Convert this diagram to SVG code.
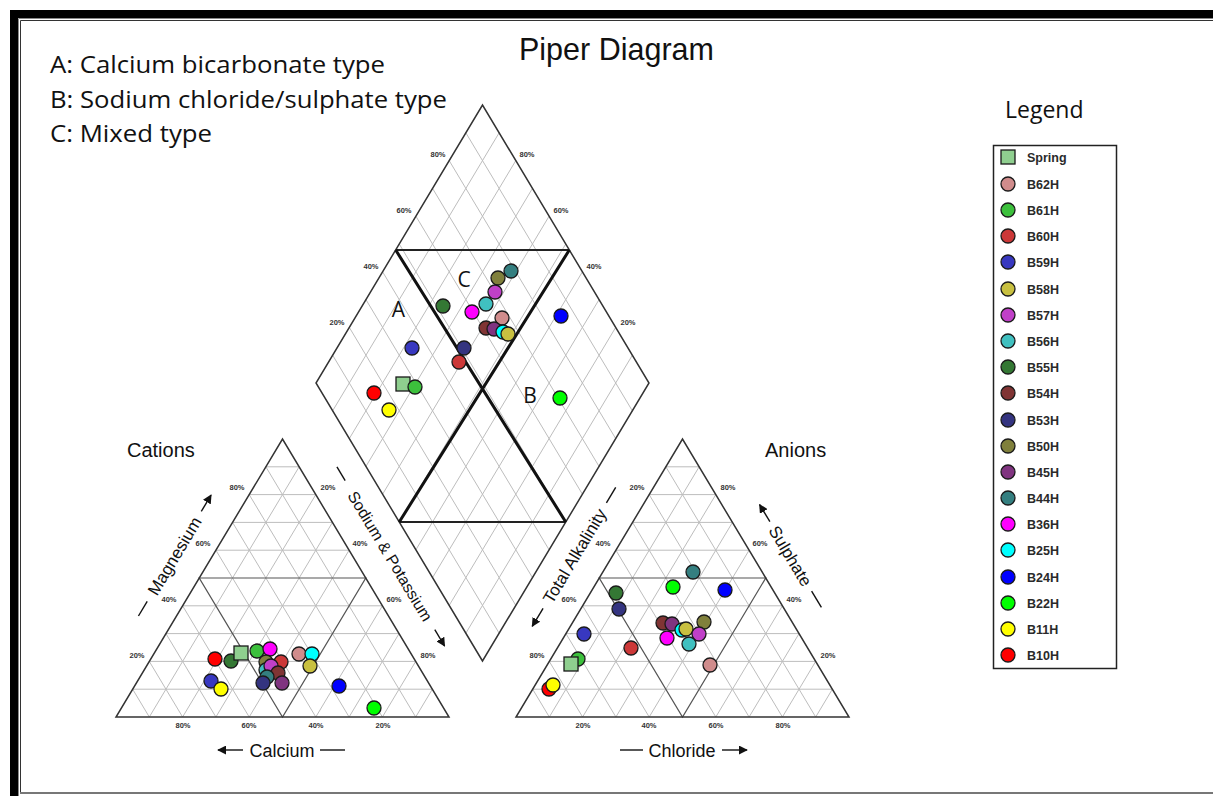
<svg xmlns="http://www.w3.org/2000/svg" width="1213" height="796" viewBox="0 0 1213 796">
<style>
.grid{fill:none;stroke:#bdbdbd;stroke-width:1}
.med{fill:none;stroke:#555;stroke-width:1.2}
.outline{fill:none;stroke:#333;stroke-width:1.5}
.thick{fill:none;stroke:#111;stroke-width:3}
.hz{fill:none;stroke:#222;stroke-width:1.8}
.tk{font-family:"Liberation Sans",Arial,sans-serif;font-size:7.5px;font-weight:bold;fill:#333;text-anchor:middle}
.ax{font-family:"Liberation Sans",Arial,sans-serif;fill:#111}
.cal{font-family:"Open Sans","Liberation Sans",sans-serif;fill:#111}
.arr{stroke:#111;stroke-width:1.4;fill:none}
.mk{stroke:#1a1a1a;stroke-width:1.3}
.lg{font-family:"Liberation Sans",Arial,sans-serif;font-size:12.5px;font-weight:bold;fill:#2a2a2a}
.spring{fill:#8fcf8f}.b62{fill:#d08c8c}.b61{fill:#3cc03c}.b60{fill:#cc3838}.b59{fill:#3838c0}
.b58{fill:#c8c040}.b57{fill:#c040c8}.b56{fill:#40c0c0}.b55{fill:#347834}.b54{fill:#803434}
.b53{fill:#343480}.b50{fill:#80803c}.b45{fill:#803480}.b44{fill:#347f80}.b36{fill:#ff00ff}
.b25{fill:#00ffff}.b24{fill:#0000ff}.b22{fill:#00ff00}.b11{fill:#ffff00}.b10{fill:#ff0000}
</style>
<defs>
<marker id="ah" viewBox="0 0 10 10" refX="9" refY="5" markerWidth="9" markerHeight="9" markerUnits="userSpaceOnUse" orient="auto">
<path d="M0,0 L10,5 L0,10 Z" fill="#111"/>
</marker>
<g id="tri">
<path class="grid" d="M16.65,-27.8H316.35 M33.3,-55.6H299.7 M49.95,-83.4H283.05 M66.6,-111.2H266.4 M99.9,-166.8H233.1 M116.55,-194.6H216.45 M133.2,-222.4H199.8 M149.85,-250.2H183.15 M33.3,0L183.15,-250.2 M66.6,0L199.8,-222.4 M99.9,0L216.45,-194.6 M133.2,0L233.1,-166.8 M199.8,0L266.4,-111.2 M233.1,0L283.05,-83.4 M266.4,0L299.7,-55.6 M299.7,0L316.35,-27.8 M33.3,0L16.65,-27.8 M66.6,0L33.3,-55.6 M99.9,0L49.95,-83.4 M133.2,0L66.6,-111.2 M199.8,0L99.9,-166.8 M233.1,0L116.55,-194.6 M266.4,0L133.2,-222.4 M299.7,0L149.85,-250.2"/>
<path class="med" d="M83.25,-139H249.75L166.5,0Z"/>
<path class="outline" d="M0,0H333L166.5,-278Z"/>
</g>
</defs>
<rect width="1213" height="796" fill="#fff"/>
<!-- frame -->
<g id="frame">
<rect x="10" y="10" width="8" height="786" fill="#000"/>
<rect x="10" y="10" width="1203" height="8" fill="#000"/>
<path d="M18.5,796V18.5H1213" stroke="#888" stroke-width="1" fill="none"/>
<path d="M20.5,793V20.5H1213" stroke="#333" stroke-width="1" fill="none"/>
<path d="M20,793H1213" stroke="#777" stroke-width="2" fill="none"/>
</g>
<!-- titles -->
<g id="title">
<text class="ax" x="519" y="60" font-size="30.5">Piper Diagram</text>
</g>
<g id="types">
<text class="cal" x="50" y="73" font-size="24" textLength="335" lengthAdjust="spacingAndGlyphs">A: Calcium bicarbonate type</text>
<text class="cal" x="50" y="108" font-size="24" textLength="397" lengthAdjust="spacingAndGlyphs">B: Sodium chloride/sulphate type</text>
<text class="cal" x="50" y="142" font-size="24" textLength="162" lengthAdjust="spacingAndGlyphs">C: Mixed type</text>
</g>
<!-- diamond -->
<g id="diamond">
<g transform="translate(482.5,661)">
<path class="grid" d="M16.65,-27.8L-149.85,-305.8 M33.3,-55.6L-133.2,-333.6 M49.95,-83.4L-116.55,-361.4 M66.6,-111.2L-99.9,-389.2 M83.25,-139L-83.25,-417 M99.9,-166.8L-66.6,-444.8 M116.55,-194.6L-49.95,-472.6 M133.2,-222.4L-33.3,-500.4 M149.85,-250.2L-16.65,-528.2 M-16.65,-27.8L149.85,-305.8 M-33.3,-55.6L133.2,-333.6 M-49.95,-83.4L116.55,-361.4 M-66.6,-111.2L99.9,-389.2 M-83.25,-139L83.25,-417 M-99.9,-166.8L66.6,-444.8 M-116.55,-194.6L49.95,-472.6 M-133.2,-222.4L33.3,-500.4 M-149.85,-250.2L16.65,-528.2"/>
<path class="outline" d="M0,0L-166.5,-278L0,-556L166.5,-278Z"/>
</g>
<path class="hz" d="M395.7,250H569.3"/>
<path class="hz" d="M399.25,522H565.75" stroke-width="1.5"/>
<path class="thick" d="M395.7,250L565.75,522 M569.3,250L399.25,522"/>
<text class="tk" x="438" y="157">80%</text>
<text class="tk" x="404" y="213">60%</text>
<text class="tk" x="371" y="269">40%</text>
<text class="tk" x="337" y="325">20%</text>
<text class="tk" x="527" y="157">80%</text>
<text class="tk" x="561" y="213">60%</text>
<text class="tk" x="594" y="269">40%</text>
<text class="tk" x="628" y="325">20%</text>
<text class="cal" x="398.5" y="317" font-size="21" text-anchor="middle">A</text>
<text class="cal" x="464" y="287" font-size="21" text-anchor="middle">C</text>
<text class="cal" x="530" y="403" font-size="21" text-anchor="middle">B</text>
</g>
<!-- cation triangle -->
<g id="cations">
<use href="#tri" x="116" y="717"/>
<text class="ax" x="127" y="457" font-size="20">Cations</text>
<text class="tk" x="237" y="490">80%</text>
<text class="tk" x="203" y="546">60%</text>
<text class="tk" x="169" y="602">40%</text>
<text class="tk" x="137" y="658">20%</text>
<text class="tk" x="328" y="490">20%</text>
<text class="tk" x="360" y="546">40%</text>
<text class="tk" x="394" y="602">60%</text>
<text class="tk" x="428" y="658">80%</text>
<text class="tk" x="183" y="728">80%</text>
<text class="tk" x="249" y="728">60%</text>
<text class="tk" x="316" y="728">40%</text>
<text class="tk" x="383" y="728">20%</text>
<g transform="translate(174.5,556) rotate(-59)">
<text class="ax" x="0" y="6" font-size="17" text-anchor="middle">Magnesium</text>
<path class="arr" d="M-70,0H-53"/>
<path class="arr" d="M52,0H71" marker-end="url(#ah)"/>
</g>
<g transform="translate(390.5,556) rotate(59)">
<text class="ax" x="0" y="6" font-size="16" text-anchor="middle">Sodium &amp; Potassium</text>
<path class="arr" d="M-104,0H-88"/>
<path class="arr" d="M86,0H105" marker-end="url(#ah)"/>
</g>
<text class="ax" x="282" y="756.5" font-size="18" text-anchor="middle">Calcium</text>
<path class="arr" d="M243,750H218" marker-end="url(#ah)"/>
<path class="arr" d="M320,750H345"/>
</g>
<!-- anion triangle -->
<g id="anions">
<use href="#tri" x="516" y="717"/>
<text class="ax" x="765" y="457" font-size="20">Anions</text>
<text class="tk" x="637" y="490">20%</text>
<text class="tk" x="603" y="546">40%</text>
<text class="tk" x="569" y="602">60%</text>
<text class="tk" x="537" y="658">80%</text>
<text class="tk" x="728" y="490">80%</text>
<text class="tk" x="760" y="546">60%</text>
<text class="tk" x="794" y="602">40%</text>
<text class="tk" x="828" y="658">20%</text>
<text class="tk" x="583" y="728">20%</text>
<text class="tk" x="649" y="728">40%</text>
<text class="tk" x="716" y="728">60%</text>
<text class="tk" x="783" y="728">80%</text>
<g transform="translate(574.5,556) rotate(-59)">
<text class="ax" x="0" y="6" font-size="17" text-anchor="middle">Total Alkalinity</text>
<path class="arr" d="M-61,0H-82" marker-end="url(#ah)"/>
<path class="arr" d="M62,0H80"/>
</g>
<g transform="translate(790.5,556) rotate(59)">
<text class="ax" x="0" y="6" font-size="17" text-anchor="middle">Sulphate</text>
<path class="arr" d="M-40,0H-60" marker-end="url(#ah)"/>
<path class="arr" d="M41,0H60"/>
</g>
<text class="ax" x="682" y="756.5" font-size="18" text-anchor="middle">Chloride</text>
<path class="arr" d="M620,750H643"/>
<path class="arr" d="M722,750H747" marker-end="url(#ah)"/>
</g>
<!-- diamond points -->
<g id="diamond-points" class="mk">
<circle class="b44" cx="511" cy="271" r="7"/>
<circle class="b50" cx="498" cy="278" r="7"/>
<circle class="b57" cx="495" cy="292" r="7"/>
<circle class="b56" cx="486" cy="304" r="7"/>
<circle class="b55" cx="443" cy="306" r="7"/>
<circle class="b36" cx="472" cy="312" r="7"/>
<circle class="b62" cx="502" cy="318" r="7"/>
<circle class="b54" cx="486" cy="328" r="7"/>
<circle class="b45" cx="494" cy="329" r="7"/>
<circle class="b25" cx="503" cy="332" r="7"/>
<circle class="b58" cx="508" cy="334" r="7"/>
<circle class="b24" cx="561" cy="316" r="7"/>
<circle class="b59" cx="412" cy="348" r="7"/>
<circle class="b53" cx="464" cy="348" r="7"/>
<circle class="b60" cx="459" cy="362" r="7"/>
<rect class="spring" x="396" y="377" width="14" height="14"/>
<circle class="b61" cx="415" cy="387" r="7"/>
<circle class="b10" cx="374" cy="393" r="7"/>
<circle class="b11" cx="389" cy="410" r="7"/>
<circle class="b22" cx="560" cy="398" r="7"/>
</g>
<!-- cation points -->
<g id="cation-points" class="mk">
<circle class="b59" cx="211" cy="681" r="7"/>
<circle class="b11" cx="221" cy="689" r="7"/>
<circle class="b10" cx="215" cy="659" r="7"/>
<circle class="b55" cx="231" cy="661" r="7"/>
<rect class="spring" x="234" y="646" width="14" height="14"/>
<circle class="b61" cx="257" cy="651" r="7"/>
<circle class="b36" cx="270" cy="649" r="7"/>
<circle class="b50" cx="266" cy="662" r="7"/>
<circle class="b56" cx="266" cy="670" r="7"/>
<circle class="b60" cx="281" cy="662" r="7"/>
<circle class="b57" cx="271" cy="666" r="7"/>
<circle class="b54" cx="278" cy="673" r="7"/>
<circle class="b44" cx="267" cy="677" r="7"/>
<circle class="b53" cx="263" cy="683" r="7"/>
<circle class="b45" cx="282" cy="683" r="7"/>
<circle class="b62" cx="299" cy="654" r="7"/>
<circle class="b25" cx="312" cy="654" r="7"/>
<circle class="b58" cx="310" cy="666" r="7"/>
<circle class="b24" cx="339" cy="686" r="7"/>
<circle class="b22" cx="374" cy="708" r="7"/>
</g>
<!-- anion points -->
<g id="anion-points" class="mk">
<circle class="b44" cx="693" cy="572" r="7"/>
<circle class="b22" cx="673" cy="587" r="7"/>
<circle class="b24" cx="725" cy="590" r="7"/>
<circle class="b55" cx="616" cy="593" r="7"/>
<circle class="b53" cx="619" cy="609" r="7"/>
<circle class="b54" cx="663" cy="623" r="7"/>
<circle class="b45" cx="672" cy="624" r="7"/>
<circle class="b50" cx="704" cy="622" r="7"/>
<circle class="b25" cx="682" cy="630" r="7"/>
<circle class="b58" cx="686" cy="629" r="7"/>
<circle class="b57" cx="699" cy="634" r="7"/>
<circle class="b36" cx="667" cy="638" r="7"/>
<circle class="b56" cx="689" cy="644" r="7"/>
<circle class="b59" cx="584" cy="634" r="7"/>
<circle class="b60" cx="631" cy="648" r="7"/>
<circle class="b62" cx="710" cy="665" r="7"/>
<circle class="b61" cx="578" cy="659" r="7"/>
<rect class="spring" x="564" y="657" width="14" height="14"/>
<circle class="b10" cx="549" cy="689" r="7"/>
<circle class="b11" cx="553" cy="685" r="7"/>
</g>
<!-- legend -->
<g id="legend">
<text class="cal" x="1005" y="118" font-size="23">Legend</text>
<rect x="993.5" y="145.5" width="123" height="523" fill="#fff" stroke="#222" stroke-width="1.5"/>
<g class="mk">
<rect class="spring" x="1001" y="150" width="14" height="14"/>
<circle class="b62" cx="1008" cy="184" r="7"/>
<circle class="b61" cx="1008" cy="210" r="7"/>
<circle class="b60" cx="1008" cy="236" r="7"/>
<circle class="b59" cx="1008" cy="262" r="7"/>
<circle class="b58" cx="1008" cy="289" r="7"/>
<circle class="b57" cx="1008" cy="315" r="7"/>
<circle class="b56" cx="1008" cy="341" r="7"/>
<circle class="b55" cx="1008" cy="367" r="7"/>
<circle class="b54" cx="1008" cy="393" r="7"/>
<circle class="b53" cx="1008" cy="420" r="7"/>
<circle class="b50" cx="1008" cy="446" r="7"/>
<circle class="b45" cx="1008" cy="472" r="7"/>
<circle class="b44" cx="1008" cy="498" r="7"/>
<circle class="b36" cx="1008" cy="524" r="7"/>
<circle class="b25" cx="1008" cy="550" r="7"/>
<circle class="b24" cx="1008" cy="577" r="7"/>
<circle class="b22" cx="1008" cy="603" r="7"/>
<circle class="b11" cx="1008" cy="629" r="7"/>
<circle class="b10" cx="1008" cy="655" r="7"/>
</g>
<text class="lg" x="1027" y="162">Spring</text>
<text class="lg" x="1027" y="189">B62H</text>
<text class="lg" x="1027" y="215">B61H</text>
<text class="lg" x="1027" y="241">B60H</text>
<text class="lg" x="1027" y="267">B59H</text>
<text class="lg" x="1027" y="294">B58H</text>
<text class="lg" x="1027" y="320">B57H</text>
<text class="lg" x="1027" y="346">B56H</text>
<text class="lg" x="1027" y="372">B55H</text>
<text class="lg" x="1027" y="398">B54H</text>
<text class="lg" x="1027" y="425">B53H</text>
<text class="lg" x="1027" y="451">B50H</text>
<text class="lg" x="1027" y="477">B45H</text>
<text class="lg" x="1027" y="503">B44H</text>
<text class="lg" x="1027" y="529">B36H</text>
<text class="lg" x="1027" y="555">B25H</text>
<text class="lg" x="1027" y="582">B24H</text>
<text class="lg" x="1027" y="608">B22H</text>
<text class="lg" x="1027" y="634">B11H</text>
<text class="lg" x="1027" y="660">B10H</text>
</g>
</svg>
